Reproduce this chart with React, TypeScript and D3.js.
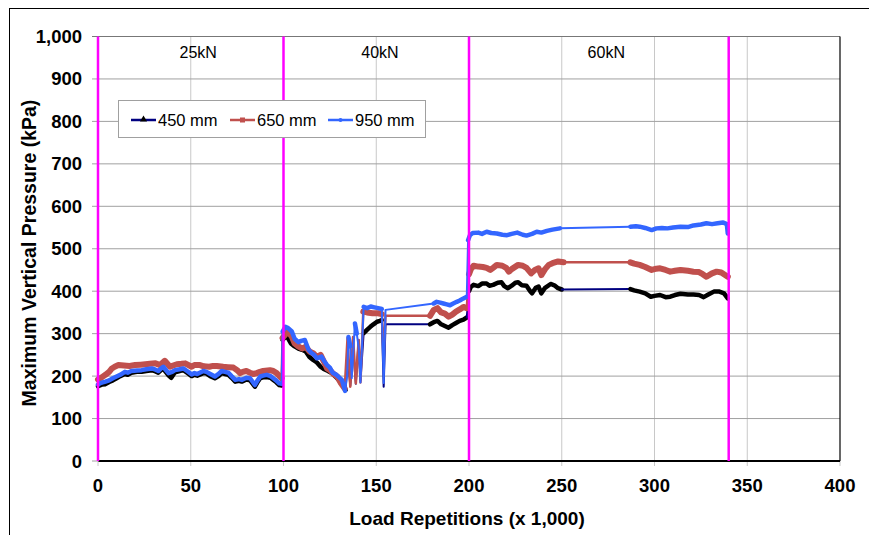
import React from "react";
import * as d3 from "d3";

const xTicks = [0, 50, 100, 150, 200, 250, 300, 350, 400];
const yTicks = [0, 100, 200, 300, 400, 500, 600, 700, 800, 900, 1000];
const stageBounds = [0, 100, 200, 340];
const stageLabels = ["25kN", "40kN", "60kN"];
const stageLabelX = [54, 152, 274];
const seriesNames = ["450 mm", "650 mm", "950 mm"];

const s450: [number, number][] = [
  [0,176],[2,180],[4,181],[6,186],[8,190],[10,195],[12,200],[14.5,205],[16,203],[18,208],[21,210],[23.5,210],[26,212],[29,214],[31,211],[32.5,208],[34,214],[35.2,218],[36.5,210],[38,202],[39.5,196],[41.5,209],[44,212],[46,214],[48,208],[50.5,200],[52,203],[53.5,201],[56.8,207],[58.5,206],[60.5,200],[63,195],[65,200],[66.7,207],[68.5,205],[70.3,203],[72,196],[74,187],[76,189],[77.5,187],[80,192],[82,190],[84.6,175],[86,186],[87.5,195],[89,197],[91,198],[93,196],[94.5,191],[96,186],[97.7,179],[99,178],
  [99.5,285],[101,293],[102.5,289],[104,277],[106,270],[108,265],[110,262],[112,258],[114,245],[116,238],[118,232],[120,222],[122,216],[124,212],[126,207],[128,199],[130,190],[132,180],[133.5,167],[134.5,250],[136,178],[137.5,270],[139,182],[140.5,285],[141.5,190],[143.2,301],[145,309],[146.8,316],[148.5,322],[150.4,328],[152,330],[153,332],[154,175],[155,322],[179,322],[181,327],[183,330],[185,322],[187,318],[189,314],[191,320],[193,325],[195,330],[197,333],[198.8,338],
  [200,400],[201,410],[202.5,415],[205,412],[207,418],[209.5,418],[211,413],[213,415],[215.5,420],[217.5,421],[219,412],[221,407],[223,413],[225,420],[226.5,421],[228.5,414],[231,413],[233,400],[234,395],[236,408],[237.5,411],[239,395],[241,408],[244,417],[246,414],[248,407],[250,404],[287,405],[289,402],[292,399],[295,395],[298,387],[300,389],[303,391],[306,386],[308.5,387],[311,391],[314,394],[318,392],[321,392],[324,391],[326.5,386],[329,392],[332,399],[335,399],[337.5,395],[339.5,383]
];

const s650: [number, number][] = [
  [0,192],[2,197],[4,203],[6,210],[7.5,218],[9,222],[11,226],[14,225],[17,224],[20,226],[23,227],[25.5,228],[28,229],[31,230],[33.5,226],[36,236],[38.8,222],[40.5,225],[42.5,228],[45,229],[47,230],[50.5,222],[52,226],[55,226],[57,223],[60,222],[62,224],[64,224],[67.5,222],[70,221],[73,220],[75,214],[76.6,207],[78,210],[80,212],[82,208],[83.7,205],[85.5,207],[87.3,210],[89,212],[92.7,214],[94.5,212],[96.3,207],[98,199],[99,195],
  [99.5,290],[101,298],[102.5,305],[104.5,293],[106,277],[108,270],[110,265],[112,269],[114,258],[116,254],[118,245],[120,250],[122,232],[123.5,218],[125,214],[127,205],[129,199],[131,183],[133,171],[134.5,289],[136,175],[137.5,292],[139,183],[140.5,285],[141.5,185],[143,352],[145,350],[148,348],[151,348],[153,346],[154,250],[155,342],[179,342],[181,356],[183,360],[185,350],[187,347],[189,340],[191,345],[193,352],[195,357],[197,363],[198.8,360],
  [200,440],[201,452],[202.5,460],[205,458],[207.5,457],[209.5,455],[211.5,450],[213,455],[215,462],[218,460],[220,455],[221.5,446],[223,452],[226.5,462],[229,460],[231,455],[233.5,442],[235.5,450],[237.5,454],[239,438],[241,452],[243,462],[245,466],[248,470],[251,468],[287,468],[289,465],[292,462],[295,457],[298.5,450],[301,453],[303,454],[306,450],[308.5,446],[311,448],[314,450],[318,448],[321,446],[324,445],[326,440],[328,434],[331,442],[333.5,446],[336,444],[339.5,434]
];

const s950: [number, number][] = [
  [0,180],[1,183],[2.5,185],[4,187],[6,190],[8,195],[10,199],[12,203],[14.5,210],[16,208],[18,212],[21,213],[23.5,214],[26,216],[29,218],[31,215],[32.5,212],[34,218],[35.2,222],[36.5,215],[38,207],[40,210],[41.5,214],[44,216],[46,218],[48,212],[50.5,204],[52,207],[53.5,205],[56.8,212],[58.5,210],[60.5,205],[63,199],[65,205],[66.7,212],[68.5,210],[70.3,208],[72,200],[74,191],[76,193],[77.5,191],[80,196],[82,195],[84.6,179],[86,190],[87.5,199],[89,201],[91,203],[93,200],[94.5,195],[96,190],[97.7,183],[99,182],
  [99.5,305],[101,316],[102.5,313],[104.5,305],[106,288],[108,280],[109.5,283],[111.5,285],[113.5,262],[115,255],[116.5,250],[118,242],[120.5,246],[122,235],[123.5,226],[125,220],[126.5,208],[128.5,203],[130,197],[131.5,191],[133.2,165],[134.3,200],[135,292],[136,270],[136.8,195],[138.5,324],[139.5,300],[140.5,269],[141.5,185],[143.2,363],[145,360],[147,364],[149,362],[151,360],[153,358],[154,184],[155,356],[181,371],[182.6,375],[184.5,373],[186.2,371],[188,369],[189.8,367],[191.5,371],[193.4,375],[195,378],[197,383],[198.8,387],
  [199.5,520],[200.5,532],[202,537],[205,538],[207,535],[209.5,540],[212,537],[215,536],[218,533],[220.5,532],[223,535],[226,538],[229,533],[231,531],[234,535],[236.5,540],[239,538],[242,542],[245,545],[249,548],[287,552],[290,553],[292,552],[295,549],[298.5,544],[301,548],[304,549],[307,548],[310,550],[314,552],[318,551],[321,555],[325,557],[328,560],[331,558],[334,560],[337,562],[339,558],[339.5,536]
];

const seriesData = [s450, s650, s950];

const W = 869, H = 535;
const M = { left: 98, right: 840, top: 36.5, bottom: 461 };
const FONT = "'Liberation Sans', Arial, sans-serif";

const styles = [
  { dense: "#000000", thin: "#000080", wDense: 4.5, wThin: 2 },
  { dense: "#C0504D", thin: "#C0504D", wDense: 6, wThin: 2.5 },
  { dense: "#3366FF", thin: "#3366FF", wDense: 4.5, wThin: 2 },
];

function splitRuns(data: [number, number][]) {
  const runs: { dense: boolean; pts: [number, number][] }[] = [];
  for (let i = 1; i < data.length; i++) {
    const a = data[i - 1], b = data[i];
    const dense = b[0] - a[0] <= 4 && Math.abs(b[1] - a[1]) <= 30;
    const last = runs[runs.length - 1];
    if (last && last.dense === dense) last.pts.push(b);
    else runs.push({ dense, pts: [a, b] });
  }
  return runs;
}

export default function App() {
  const x = d3.scaleLinear().domain([0, 400]).range([M.left, M.right]);
  const y = d3.scaleLinear().domain([0, 1000]).range([M.bottom, M.top]);
  const line = d3.line<[number, number]>().x(d => x(d[0])).y(d => y(d[1]));

  return (
    <svg width={W} height={H} style={{ position: "absolute", left: 0, top: 0, background: "#fff" }} fontFamily={FONT}>
      <rect x={9.5} y={8.5} width={900} height={600} fill="#fff" stroke="#000" strokeWidth={1} />
      {xTicks.filter(t => t > 0 && t < 400).map(t => (
        <line key={"vx" + t} x1={x(t)} x2={x(t)} y1={M.top} y2={M.bottom + 5} stroke="#c8c8c8" strokeWidth={1} />
      ))}
      {yTicks.filter(t => t > 0).map(t => (
        <line key={"hy" + t} x1={M.left - 6} x2={M.right} y1={y(t)} y2={y(t)} stroke={t === 1000 ? "#777" : "#a0a0a0"} strokeWidth={1} />
      ))}
      <line x1={M.left - 6} x2={M.left} y1={y(0)} y2={y(0)} stroke="#a0a0a0" />
      <line x1={M.right} x2={M.right} y1={M.top} y2={M.bottom} stroke="#000" strokeWidth={1.2} />
      <line x1={M.right} x2={M.right} y1={M.bottom} y2={M.bottom + 5} stroke="#c8c8c8" />
      <line x1={M.left} x2={M.right} y1={M.bottom} y2={M.bottom} stroke="#000" strokeWidth={1.8} />
      <line x1={M.left} x2={M.left} y1={M.bottom} y2={M.bottom + 5} stroke="#c8c8c8" />

      {seriesData.map((data, si) => {
        const st = styles[si];
        return (
          <g key={"s" + si}>
            {splitRuns(data).map((r, ri) => (
              <path key={ri} d={line(r.pts) || ""} fill="none"
                stroke={r.dense ? st.dense : st.thin}
                strokeWidth={r.dense ? st.wDense : st.wThin}
                strokeLinejoin="round" strokeLinecap="round" />
            ))}
          </g>
        );
      })}

      {stageBounds.map(b => (
        <line key={"b" + b} x1={x(b)} x2={x(b)} y1={M.top} y2={M.bottom} stroke="#FF00FF" strokeWidth={2.5} />
      ))}
      {stageLabels.map((s, i) => (
        <text key={s} x={x(stageLabelX[i])} y={58} fontSize={16} textAnchor="middle" fill="#000">{s}</text>
      ))}

      <rect x={118.5} y={100.5} width={307} height={37} fill="#fff" stroke="#a0a0a0" strokeWidth={1} />
      {seriesNames.map((n, i) => {
        const lx = [131, 230, 328][i];
        const st = styles[i];
        return (
          <g key={n}>
            <line x1={lx} x2={lx + 25} y1={120} y2={120} stroke={st.thin} strokeWidth={2.5} />
            {i === 0 && <path d={d3.symbol(d3.symbolTriangle, 22)() || ""} transform={`translate(${lx + 12.5},119.5)`} fill="#000" />}
            {i === 1 && <rect x={lx + 10} y={117.5} width={5} height={5} fill="#C0504D" />}
            {i === 2 && <circle cx={lx + 12.5} cy={120} r={2} fill="#3366FF" />}
            <text x={lx + 27} y={126} fontSize={16.5} fill="#000">{n}</text>
          </g>
        );
      })}

      {yTicks.map(t => (
        <text key={"yl" + t} x={82} y={y(t) + 6.5} fontSize={18.5} fontWeight="bold" textAnchor="end" fill="#000">{d3.format(",")(t)}</text>
      ))}
      {xTicks.map(t => (
        <text key={"xl" + t} x={x(t)} y={492} fontSize={18.5} fontWeight="bold" textAnchor="middle" fill="#000">{t}</text>
      ))}
      <text x={467} y={525} fontSize={19} fontWeight="bold" textAnchor="middle" fill="#000">Load Repetitions (x 1,000)</text>
      <text transform="translate(36,253) rotate(-90)" fontSize={19.5} fontWeight="bold" textAnchor="middle" fill="#000">Maximum Vertical Pressure (kPa)</text>
    </svg>
  );
}
